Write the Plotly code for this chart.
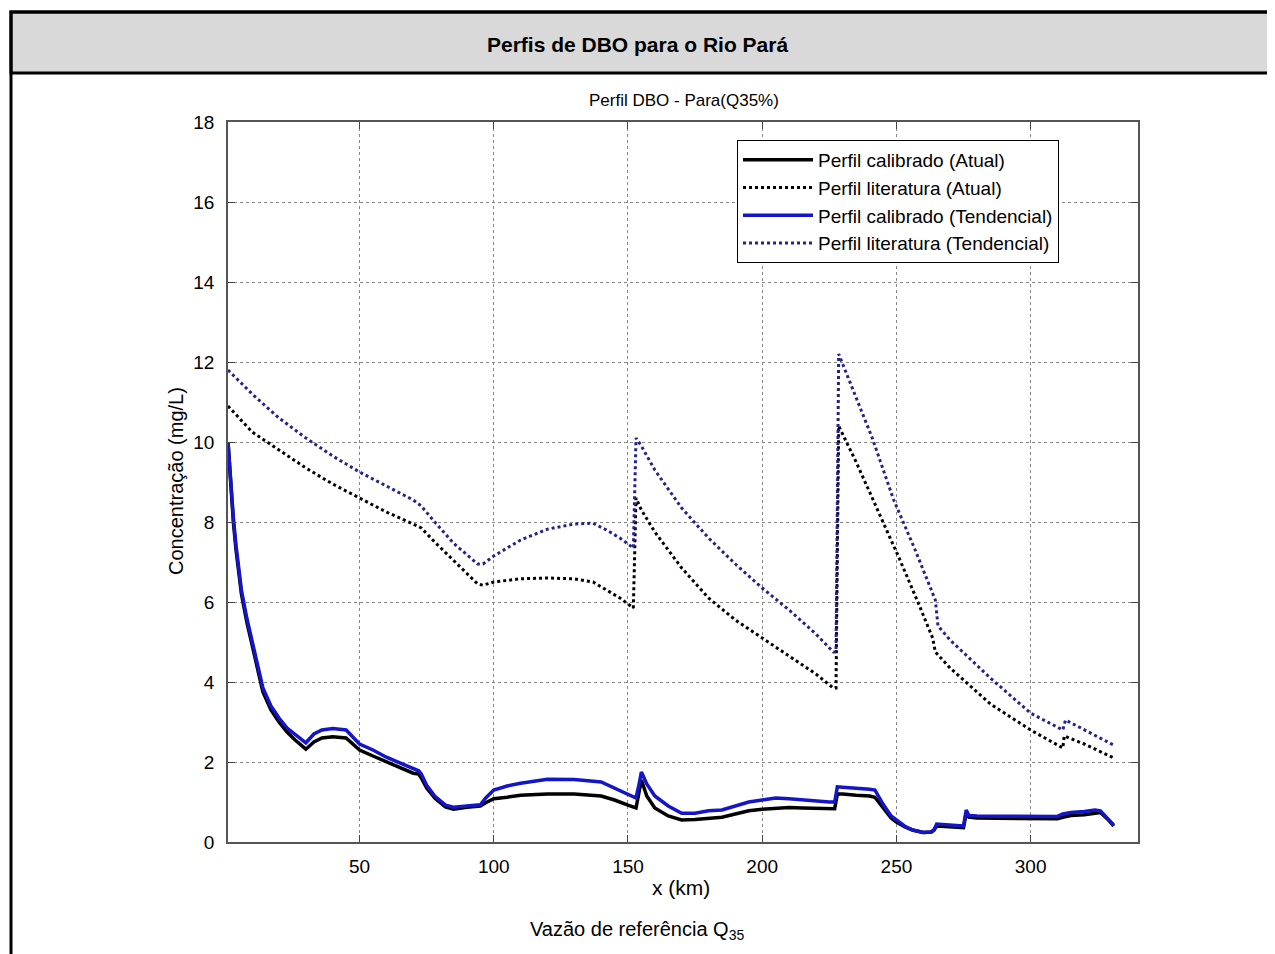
import plotly.graph_objects as go

# ---------------- data ----------------
x_cal_atual = [1, 2, 3, 4, 5, 6, 8, 10, 12, 14, 17, 20, 23, 26, 30, 33, 36, 40, 45, 50,
               55, 60, 65, 70, 72, 73, 75, 78, 82, 85, 90, 95, 97, 100, 105, 110, 120, 130, 140, 145,
               150, 153, 154, 155, 157, 160, 165, 170, 175, 180, 185, 190, 195, 200, 205, 210, 215, 220, 225, 227,
               228, 230, 235, 240, 242, 245, 248, 250, 253, 256, 260, 263, 264, 265, 270, 275, 276, 277, 280, 290,
               300, 310, 312, 315, 320, 324, 326, 329, 331]
y_cal_atual = [10.0, 8.9, 8.0, 7.3, 6.7, 6.2, 5.5, 4.9, 4.3, 3.75, 3.3, 3.0, 2.75, 2.55, 2.32, 2.5, 2.6, 2.63, 2.6, 2.3,
               2.15, 2.0, 1.85, 1.72, 1.7, 1.6, 1.35, 1.1, 0.88, 0.82, 0.87, 0.9, 0.98, 1.08, 1.12, 1.17, 1.2, 1.2, 1.15, 1.05,
               0.92, 0.85, 1.2, 1.55, 1.15, 0.85, 0.65, 0.55, 0.56, 0.6, 0.62, 0.7, 0.78, 0.82, 0.85, 0.86, 0.85, 0.85, 0.83, 0.83,
               1.2, 1.2, 1.17, 1.15, 1.12, 0.85, 0.6, 0.5, 0.38, 0.3, 0.24, 0.25, 0.3, 0.4, 0.38, 0.36, 0.72, 0.62, 0.6, 0.6,
               0.58, 0.58, 0.62, 0.66, 0.68, 0.72, 0.74, 0.55, 0.4]

x_cal_tend = [1, 2, 3, 4, 5, 6, 8, 10, 12, 14, 17, 20, 23, 26, 30, 33, 36, 40, 45, 50,
              55, 60, 65, 70, 72, 73, 75, 78, 82, 85, 90, 95, 97, 100, 105, 110, 120, 130, 140, 145,
              150, 153, 154, 155, 157, 160, 165, 170, 175, 180, 185, 190, 195, 200, 205, 210, 215, 220, 225, 227,
              228, 230, 235, 240, 242, 245, 248, 250, 253, 256, 260, 263, 264, 265, 270, 275, 276, 277, 280, 290,
              300, 310, 312, 315, 320, 324, 326, 329, 331]
y_cal_tend = [10.0, 8.95, 8.1, 7.4, 6.8, 6.3, 5.6, 5.0, 4.4, 3.85, 3.4, 3.1, 2.85, 2.68, 2.48, 2.7, 2.8, 2.84, 2.8, 2.45,
              2.3, 2.12, 1.97, 1.82, 1.78, 1.7, 1.42, 1.15, 0.92, 0.87, 0.9, 0.93, 1.1, 1.3, 1.4, 1.47, 1.57, 1.56, 1.5, 1.35,
              1.18, 1.1, 1.4, 1.75, 1.45, 1.15, 0.9, 0.72, 0.72, 0.78, 0.8, 0.9, 1.0, 1.05, 1.1, 1.08, 1.05, 1.02, 1.0, 1.0,
              1.38, 1.37, 1.35, 1.32, 1.3, 0.95, 0.65, 0.55, 0.4, 0.3, 0.24, 0.25, 0.3, 0.45, 0.42, 0.4, 0.8, 0.66, 0.65, 0.65,
              0.65, 0.64, 0.7, 0.74, 0.76, 0.8, 0.78, 0.58, 0.42]

x_lit_atual = [1, 10, 20, 30, 40, 50, 60, 70, 73, 78, 85, 94, 96, 100, 110, 120, 130, 137, 142, 147,
               152, 153, 155, 160, 170, 180, 190, 200, 210, 220, 226.5, 227.5, 228.5, 235, 241, 251, 258, 263.5, 264.5, 270,
               275, 285, 300, 312, 312.5, 320, 331]
y_lit_atual = [10.9, 10.25, 9.8, 9.35, 8.95, 8.6, 8.25, 7.95, 7.85, 7.5, 7.05, 6.45, 6.42, 6.5, 6.58, 6.6, 6.58, 6.5, 6.3, 6.1,
               5.85, 8.6, 8.3, 7.75, 6.85, 6.1, 5.55, 5.1, 4.65, 4.2, 3.85, 3.85, 10.4, 9.5, 8.6, 7.1, 6.0, 5.1, 4.75, 4.35,
               4.05, 3.45, 2.8, 2.35, 2.65, 2.45, 2.1]

x_lit_tend = [1, 10, 20, 30, 40, 50, 60, 70, 73, 78, 85, 94, 96, 100, 110, 120, 130, 137, 142, 147,
              152, 153, 155, 160, 170, 180, 190, 200, 210, 220, 226.5, 227.5, 228.5, 235, 241, 249, 257, 264.5, 265.5, 270,
              276.7, 285, 300, 312, 313, 320, 331]
y_lit_tend = [11.8, 11.2, 10.6, 10.1, 9.65, 9.25, 8.9, 8.55, 8.4, 8.0, 7.47, 6.95, 6.95, 7.15, 7.55, 7.82, 7.95, 7.97, 7.8, 7.6,
              7.35, 10.1, 9.9, 9.3, 8.35, 7.6, 6.95, 6.35, 5.8, 5.2, 4.75, 4.75, 12.2, 11.1, 10.1, 8.55, 7.3, 6.05, 5.4, 5.05,
              4.63, 4.1, 3.22, 2.8, 3.05, 2.8, 2.42]

names = ["Perfil calibrado (Atual)", "Perfil literatura (Atual)",
         "Perfil calibrado (Tendencial)", "Perfil literatura (Tendencial)"]

x_ticks = [50, 100, 150, 200, 250, 300]
y_ticks = [0, 2, 4, 6, 8, 10, 12, 14, 16, 18]

# ---------------- figure ----------------
FONT = "Liberation Sans, Arial, sans-serif"
fig = go.Figure()
fig.add_trace(go.Scatter(x=x_cal_atual, y=y_cal_atual, mode="lines", name=names[0],
                         line=dict(color="#000000", width=3.5)))
fig.add_trace(go.Scatter(x=x_lit_atual, y=y_lit_atual, mode="lines", name=names[1],
                         line=dict(color="#000000", width=3, dash="dot")))
fig.add_trace(go.Scatter(x=x_cal_tend, y=y_cal_tend, mode="lines", name=names[2],
                         line=dict(color="#1414c8", width=3.5)))
fig.add_trace(go.Scatter(x=x_lit_tend, y=y_lit_tend, mode="lines", name=names[3],
                         line=dict(color="#23238a", width=3, dash="dot")))

# page layout (browser body has an 8px margin)
OFF = 8
PL, PT = 228, 122          # plot area top-left on the page
pw, ph = 910, 720          # plot area size
W, H = 1275 - OFF, 954 - OFF
L, T = PL - OFF, PT - OFF
R, B = W - L - pw, H - T - ph


def px(xp):
    return (xp - PL) / pw


def py(yp):
    return (PT + ph - yp) / ph


shapes = [
    dict(type="rect", xref="paper", yref="paper", x0=px(11), x1=px(1300), y0=py(73), y1=py(12),
         fillcolor="#d9d9d9", line=dict(color="black", width=3), layer="below"),
    dict(type="rect", xref="paper", yref="paper", x0=px(11), x1=px(1300), y0=py(1000), y1=py(12),
         fillcolor="rgba(0,0,0,0)", line=dict(color="black", width=3), layer="below"),
]

annotations = [
    dict(text="<b>Perfis de DBO para o Rio Pará</b>", xref="paper", yref="paper",
         x=px(637), y=py(45), xanchor="center", yanchor="middle", showarrow=False,
         font=dict(family=FONT, size=21, color="black")),
    dict(text="Perfil DBO - Para(Q35%)", xref="paper", yref="paper",
         x=px(684), y=py(100), xanchor="center", yanchor="middle", showarrow=False,
         font=dict(family=FONT, size=17, color="black")),
    dict(text="x (km)", xref="paper", yref="paper",
         x=px(681), y=py(887), xanchor="center", yanchor="middle", showarrow=False,
         font=dict(family=FONT, size=21, color="black")),
    dict(text="Concentração (mg/L)", xref="paper", yref="paper", textangle=-90,
         x=px(176), y=py(481), xanchor="center", yanchor="middle", showarrow=False,
         font=dict(family=FONT, size=20, color="black")),
    dict(text="Vazão de referência Q<sub>35</sub>", xref="paper", yref="paper",
         x=px(637), y=py(930), xanchor="center", yanchor="middle", showarrow=False,
         font=dict(family=FONT, size=20, color="black")),
]

axis_common = dict(ticks="inside", ticklen=7, tickcolor="#444",
                   showline=True, linecolor="#555", linewidth=1.5, mirror="ticks",
                   showgrid=True, gridcolor="#888", griddash="dot", gridwidth=1, zeroline=False,
                   tickfont=dict(family=FONT, size=19, color="black"))

fig.update_layout(
    width=W, height=H,
    margin=dict(l=L, r=R, t=T, b=B),
    paper_bgcolor="white", plot_bgcolor="white",
    font=dict(family=FONT, size=18, color="black"),
    shapes=shapes, annotations=annotations,
    showlegend=True,
    legend=dict(x=px(737), y=py(140), xanchor="left", yanchor="top",
                bgcolor="white", bordercolor="black", borderwidth=1,
                font=dict(family=FONT, size=19, color="black"),
                tracegroupgap=0, itemwidth=70),
    xaxis=dict(range=[1, 340], tickvals=x_ticks, ticklabelstandoff=6, **axis_common),
    yaxis=dict(range=[0, 18], tickvals=y_ticks, ticklabelstandoff=8, **axis_common),
)

fig.write_html("out.html")
